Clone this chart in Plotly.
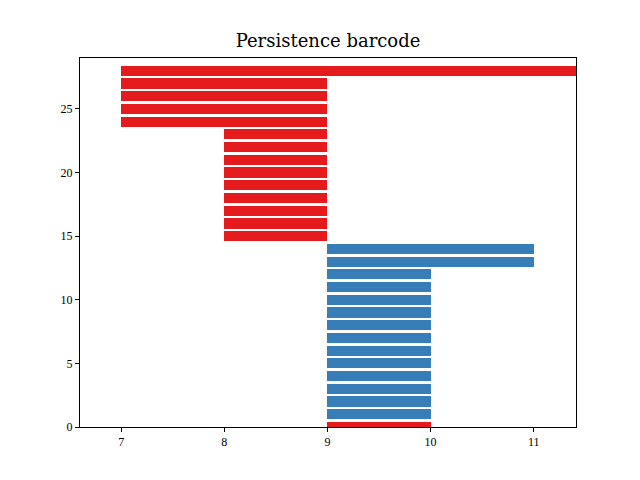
import numpy as np
import plotly.graph_objects as go

# persistence intervals (birth, death), one bar per row, bottom to top
births = [9] + [9] * 12 + [9, 9] + [8] * 9 + [7] * 4 + [7]
deaths = [10] + [10] * 12 + [11, 11] + [9] * 9 + [9] * 4 + [np.inf]
dims = [0] + [1] * 14 + [0] * 9 + [0] * 4 + [0]

colors = {0: "#e41a1c", 1: "#377eb8"}

x_range = [6.6, 11.41]
y_range = [0, 29]

rows = list(range(len(births)))
ends = [min(d, x_range[1] + 1) for d in deaths]

fig = go.Figure()
fig.add_trace(
    go.Bar(
        y=rows,
        x=[e - b for b, e in zip(births, ends)],
        base=births,
        orientation="h",
        width=0.8,
        marker=dict(color=[colors[d] for d in dims], line=dict(width=0)),
        showlegend=False,
    )
)

axis_style = dict(
    showgrid=False,
    zeroline=False,
    showline=True,
    linecolor="black",
    linewidth=1,
    mirror=True,
    ticks="outside",
    ticklen=4,
    tickwidth=1,
    tickcolor="black",
    tickfont=dict(size=12, color="black", family="Liberation Serif"),
)

fig.update_layout(
    width=640,
    height=480,
    margin=dict(l=72, r=72, t=50, b=61),
    paper_bgcolor="white",
    plot_bgcolor="white",
    font=dict(family="Liberation Serif", color="black"),
    title=dict(
        text="Persistence barcode",
        x=0.5,
        xanchor="center",
        y=0.931,
        yanchor="middle",
        font=dict(size=18, family="DejaVu Serif"),
    ),
    bargap=0,
)
fig.update_xaxes(range=x_range, tickvals=[7, 8, 9, 10, 11], **axis_style)
fig.update_yaxes(range=y_range, tickvals=[0, 5, 10, 15, 20, 25], **axis_style)

fig.write_html("out.html")
